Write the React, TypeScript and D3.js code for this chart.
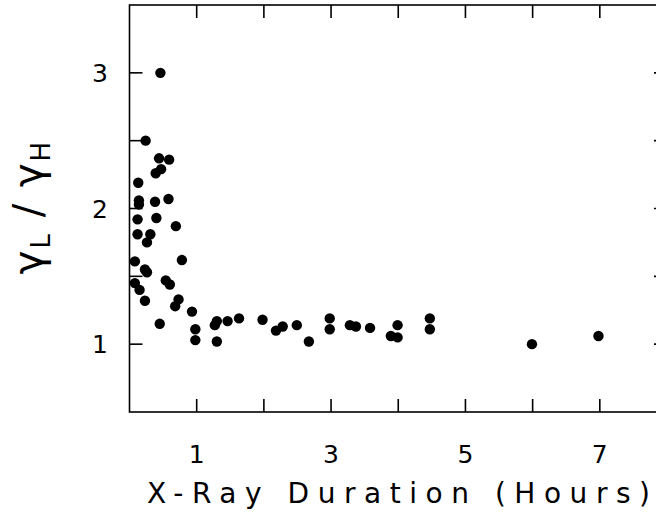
import React from 'react';
import { scaleLinear, range } from 'd3';

// duration in hours
const durations = [
  0.46, 0.24, 0.44, 0.59, 0.39, 0.47, 0.13, 0.14, 0.14, 0.38,
  0.58, 0.12, 0.40, 0.69, 0.12, 0.31, 0.26, 0.08, 0.78, 0.23,
  0.26, 0.08, 0.15, 0.54, 0.60, 0.23, 0.73, 0.68, 0.93, 0.45,
  0.98, 0.98, 1.30, 1.27, 1.30, 1.46, 1.63, 1.98, 2.18, 2.28,
  2.49, 2.67, 2.98, 2.98, 3.28, 3.37, 3.58, 3.89, 3.99, 3.99,
  4.47, 4.47, 5.99, 6.98,
];
// gamma_L / gamma_H
const ratios = [
  3.00, 2.50, 2.37, 2.36, 2.26, 2.29, 2.19, 2.06, 2.03, 2.05,
  2.07, 1.92, 1.93, 1.87, 1.81, 1.81, 1.75, 1.61, 1.62, 1.55,
  1.53, 1.45, 1.40, 1.47, 1.44, 1.32, 1.33, 1.28, 1.24, 1.15,
  1.11, 1.03, 1.17, 1.14, 1.02, 1.17, 1.19, 1.18, 1.10, 1.13,
  1.14, 1.02, 1.19, 1.11, 1.14, 1.13, 1.12, 1.06, 1.05, 1.14,
  1.19, 1.11, 1.00, 1.06,
];
const xTickLabels = [1, 3, 5, 7];
const yTickLabels = [1, 2, 3];

const font = '"DejaVu Sans", sans-serif';

export default function App() {
  const left = 129.5, right = 667, top = 5, bottom = 412;
  const x = scaleLinear().domain([0, 8]).range([left, right]);
  const y = scaleLinear().domain([0.5, 3.5]).range([bottom, top]);
  const tick = 13;

  return (
    <svg width={656} height={515} style={{ position: 'absolute', left: 0, top: 0, background: '#fff' }}>
      {/* frame */}
      <rect x={left} y={top} width={right - left} height={bottom - top} fill="none" stroke="#000" strokeWidth={1.6} />

      {/* x ticks, top and bottom */}
      {range(1, 8).map(v => (
        <g key={'xt' + v} stroke="#000" strokeWidth={1.6}>
          <line x1={x(v)} x2={x(v)} y1={bottom} y2={bottom - tick} />
          <line x1={x(v)} x2={x(v)} y1={top} y2={top + tick} />
        </g>
      ))}
      {/* y ticks, left and right */}
      {range(1, 3.01, 0.5).map(v => (
        <g key={'yt' + v} stroke="#000" strokeWidth={1.6}>
          <line x1={left} x2={left + tick} y1={y(v)} y2={y(v)} />
          <line x1={right} x2={right - tick} y1={y(v)} y2={y(v)} />
        </g>
      ))}

      {xTickLabels.map(v => (
        <text key={'xl' + v} x={x(v)} y={463} textAnchor="middle" fontFamily={font} fontSize={25}>{v}</text>
      ))}
      {yTickLabels.map(v => (
        <text key={'yl' + v} x={108} y={y(v) + 9} textAnchor="end" fontFamily={font} fontSize={25}>{v}</text>
      ))}

      <text x={147} y={503} fontFamily={font} fontSize={28} textLength={503} lengthAdjust="spacing">X-Ray Duration (Hours)</text>

      <text transform="translate(42,207) rotate(-90)" textAnchor="middle" fontFamily={font} fontSize={40} letterSpacing={2}>
        <tspan>γ</tspan>
        <tspan fontSize={26} dy={8}>L</tspan>
        <tspan dy={-8}> / γ</tspan>
        <tspan fontSize={26} dy={8}>H</tspan>
      </text>

      {durations.map((d, i) => (
        <circle key={i} cx={x(d)} cy={y(ratios[i])} r={5.2} fill="#000" />
      ))}
    </svg>
  );
}
